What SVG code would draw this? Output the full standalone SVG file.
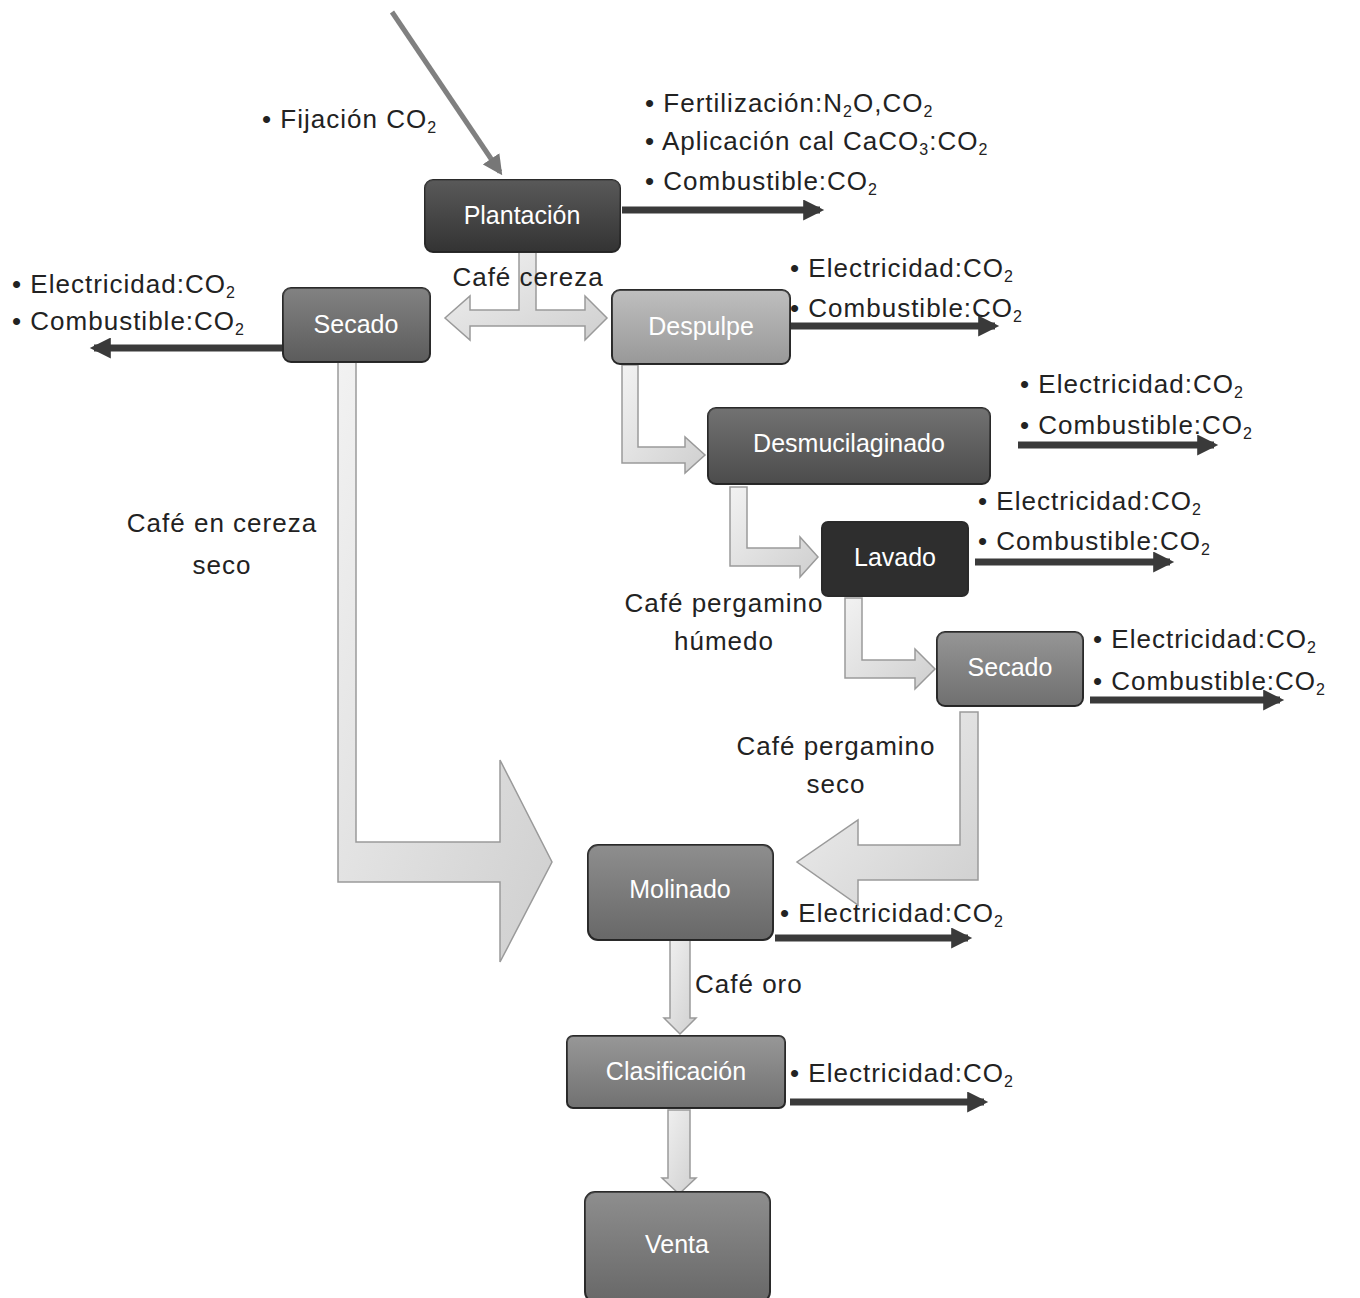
<svg xmlns="http://www.w3.org/2000/svg" width="1360" height="1298" viewBox="0 0 1360 1298">
<defs>
<style>
.t{font-family:"Liberation Sans","DejaVu Sans",sans-serif;font-size:26px;letter-spacing:1px;fill:#222}
.n{font-family:"Liberation Sans","DejaVu Sans",sans-serif;font-size:25px;fill:#fff;text-anchor:middle}
.c{text-anchor:middle}
.s{font-size:16px}
.dk{stroke:#3a3a3a;stroke-width:7;fill:none;marker-end:url(#ah)}
.blk{fill:url(#lg);stroke:#9a9a9a;stroke-width:1.5}
.box{stroke:#2a2a2a;stroke-width:2}
</style>
<marker id="ah" viewBox="0 0 10 10" refX="8" refY="5" markerWidth="4" markerHeight="3" orient="auto" markerUnits="strokeWidth">
<path d="M0,0 L10,5 L0,10 z" fill="#3a3a3a"/>
</marker>
<marker id="ag" viewBox="0 0 10 10" refX="8" refY="5" markerWidth="4" markerHeight="4" orient="auto" markerUnits="strokeWidth">
<path d="M0,0 L10,5 L0,10 z" fill="#777"/>
</marker>
<linearGradient id="lg" x1="0" y1="0" x2="1" y2="1">
<stop offset="0" stop-color="#f2f2f2"/>
<stop offset="1" stop-color="#cfcfcf"/>
</linearGradient>
<linearGradient id="shade" x1="0" y1="0" x2="0" y2="1">
<stop offset="0" stop-color="#fff" stop-opacity="0.15"/>
<stop offset="1" stop-color="#000" stop-opacity="0.15"/>
</linearGradient>
</defs>
<rect width="1360" height="1298" fill="#fff"/>

<g id="connectors">
<line x1="392" y1="12" x2="500" y2="172" stroke="#808080" stroke-width="5" marker-end="url(#ag)"/>
<path class="blk" d="M519,252 H536 V310 H585 V296 L607,318 L585,340 V326 H470 V340 L445,318 L470,296 V310 H519 Z"/>
<path class="blk" d="M622,365 H638 V447 H685 V437 L705,455 L685,473 V463 H622 Z"/>
<path class="blk" d="M730,487 H747 V548 H800 V537 L818,557 L800,577 V566 H730 Z"/>
<path class="blk" d="M845,598 H862 V660 H915 V649 L935,669 L915,689 V678 H845 Z"/>
<path class="blk" d="M338,362 H356 V842 H500 V760 L552,862 L500,962 V882 H338 Z"/>
<path class="blk" d="M978,712 H960 V845 H858 V820 L797,862 L858,905 V880 H978 Z"/>
<path class="blk" d="M670,940 H690 V1018 H696 L680,1034 L664,1018 H670 Z"/>
<path class="blk" d="M668,1110 H690 V1178 H696 L679,1194 L662,1178 H668 Z"/>
<path class="dk" d="M622,210 H820"/>
<path class="dk" d="M283,348 H94"/>
<path class="dk" d="M790,326 H995"/>
<path class="dk" d="M1018,445 H1214"/>
<path class="dk" d="M975,562 H1170"/>
<path class="dk" d="M1090,700 H1280"/>
<path class="dk" d="M775,938 H968"/>
<path class="dk" d="M790,1102 H984"/>
</g>

<g id="plantacion">
<rect class="box" x="425" y="180" width="195" height="72" rx="8" fill="#3c3c3c"/>
<rect x="425" y="180" width="195" height="72" rx="8" fill="url(#shade)"/>
<text class="n" x="522" y="224">Plantación</text>
</g>
<g id="secado1">
<rect class="box" x="283" y="288" width="147" height="74" rx="8" fill="#6c6c6c" stroke="#444"/>
<rect x="283" y="288" width="147" height="74" rx="8" fill="url(#shade)"/>
<text class="n" x="356" y="333">Secado</text>
</g>
<g id="despulpe">
<rect class="box" x="612" y="290" width="178" height="74" rx="8" fill="#b3b3b3" stroke="#555"/>
<rect x="612" y="290" width="178" height="74" rx="8" fill="url(#shade)"/>
<text class="n" x="701" y="335">Despulpe</text>
</g>
<g id="desmucilaginado">
<rect class="box" x="708" y="408" width="282" height="76" rx="8" fill="#595959"/>
<rect x="708" y="408" width="282" height="76" rx="8" fill="url(#shade)"/>
<text class="n" x="849" y="452">Desmucilaginado</text>
</g>
<g id="lavado">
<rect class="box" x="822" y="522" width="146" height="74" rx="6" fill="#2e2e2e"/>
<text class="n" x="895" y="566">Lavado</text>
</g>
<g id="secado2">
<rect class="box" x="937" y="632" width="146" height="74" rx="8" fill="#838383" stroke="#444"/>
<rect x="937" y="632" width="146" height="74" rx="8" fill="url(#shade)"/>
<text class="n" x="1010" y="676">Secado</text>
</g>
<g id="molinado">
<rect class="box" x="588" y="845" width="185" height="95" rx="10" fill="#7a7a7a" stroke="#444"/>
<rect x="588" y="845" width="185" height="95" rx="10" fill="url(#shade)"/>
<text class="n" x="680" y="898">Molinado</text>
</g>
<g id="clasificacion">
<rect class="box" x="567" y="1036" width="218" height="72" rx="6" fill="#858585" stroke="#444"/>
<rect x="567" y="1036" width="218" height="72" rx="6" fill="url(#shade)"/>
<text class="n" x="676" y="1080">Clasificación</text>
</g>
<g id="venta">
<rect class="box" x="585" y="1192" width="185" height="110" rx="10" fill="#7a7a7a" stroke="#444"/>
<rect x="585" y="1192" width="185" height="110" rx="10" fill="url(#shade)"/>
<text class="n" x="677" y="1253">Venta</text>
</g>

<g id="labels">
<text class="t" x="262" y="128">• Fijación CO<tspan class="s" dy="5">2</tspan></text>
<text class="t" x="645" y="112">• Fertilización:N<tspan class="s" dy="5">2</tspan><tspan dy="-5">O,CO</tspan><tspan class="s" dy="5">2</tspan></text>
<text class="t" x="645" y="150">• Aplicación cal CaCO<tspan class="s" dy="5">3</tspan><tspan dy="-5">:CO</tspan><tspan class="s" dy="5">2</tspan></text>
<text class="t" x="645" y="190">• Combustible:CO<tspan class="s" dy="5">2</tspan></text>
<text class="t" x="12" y="293">• Electricidad:CO<tspan class="s" dy="5">2</tspan></text>
<text class="t" x="12" y="330">• Combustible:CO<tspan class="s" dy="5">2</tspan></text>
<text class="t c" x="528" y="286">Café cereza</text>
<text class="t" x="790" y="277">• Electricidad:CO<tspan class="s" dy="5">2</tspan></text>
<text class="t" x="790" y="317">• Combustible:CO<tspan class="s" dy="5">2</tspan></text>
<text class="t" x="1020" y="393">• Electricidad:CO<tspan class="s" dy="5">2</tspan></text>
<text class="t" x="1020" y="434">• Combustible:CO<tspan class="s" dy="5">2</tspan></text>
<text class="t" x="978" y="510">• Electricidad:CO<tspan class="s" dy="5">2</tspan></text>
<text class="t" x="978" y="550">• Combustible:CO<tspan class="s" dy="5">2</tspan></text>
<text class="t" x="1093" y="648">• Electricidad:CO<tspan class="s" dy="5">2</tspan></text>
<text class="t" x="1093" y="690">• Combustible:CO<tspan class="s" dy="5">2</tspan></text>
<text class="t c" x="222" y="532">Café en cereza</text>
<text class="t c" x="222" y="574">seco</text>
<text class="t c" x="724" y="612">Café pergamino</text>
<text class="t c" x="724" y="650">húmedo</text>
<text class="t c" x="836" y="755">Café pergamino</text>
<text class="t c" x="836" y="793">seco</text>
<text class="t" x="780" y="922">• Electricidad:CO<tspan class="s" dy="5">2</tspan></text>
<text class="t" x="695" y="993">Café oro</text>
<text class="t" x="790" y="1082">• Electricidad:CO<tspan class="s" dy="5">2</tspan></text>
</g>
</svg>
